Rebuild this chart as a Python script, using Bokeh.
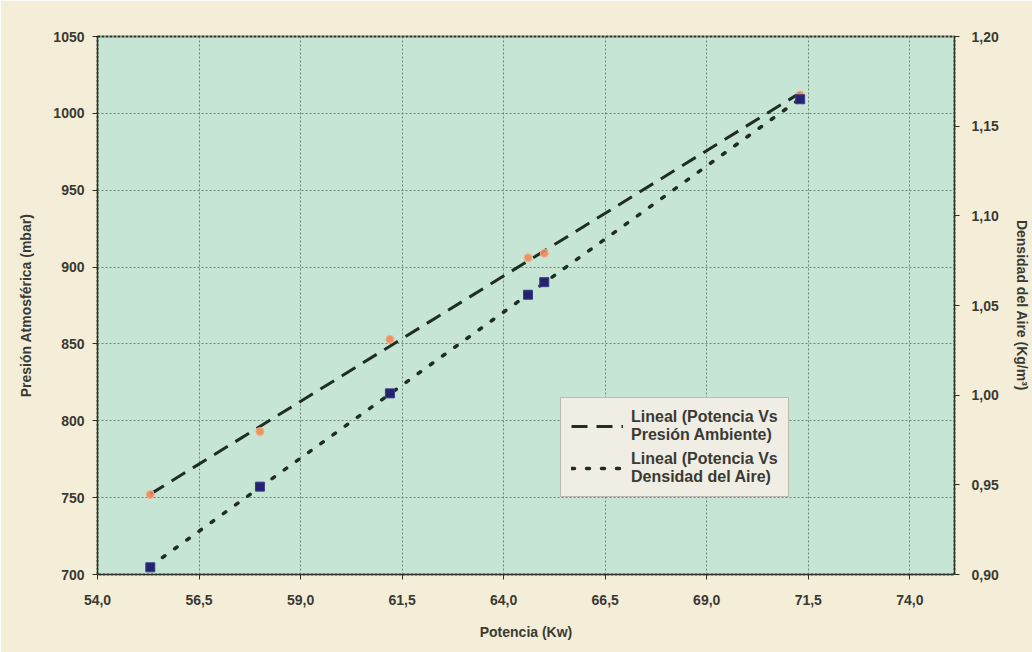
import numpy as np
from bokeh.plotting import figure
from bokeh.models import (Range1d, LinearAxis, FixedTicker, CustomJSTickFormatter,
                          Legend, LegendItem)
from bokeh.embed import file_html
from bokeh.resources import INLINE

# ---- data ----
potencia = [55.3, 58.0, 61.2, 64.6, 65.0, 71.3]
presion = [752, 793, 853, 906, 909, 1012]
densidad = [0.904, 0.949, 1.001, 1.056, 1.063, 1.165]
x_ticks = [54.0, 56.5, 59.0, 61.5, 64.0, 66.5, 69.0, 71.5, 74.0]
y_ticks = [700, 750, 800, 850, 900, 950, 1000, 1050]
y2_ticks = [0.90, 0.95, 1.00, 1.05, 1.10, 1.15, 1.20]

FONT = "Liberation Sans"
DARK = "#1e2e22"

p = figure(width=1032, height=652, output_backend="svg", toolbar_location=None,
           x_range=Range1d(54.0, 75.1), y_range=Range1d(700, 1050),
           min_border_left=97, min_border_right=74, min_border_top=36,
           min_border_bottom=78)
p.extra_y_ranges = {"dens": Range1d(0.90, 1.20)}

p.background_fill_color = "#c6e5d5"
p.border_fill_color = "#f4eed9"
p.outline_line_color = "#2b2f28"
p.outline_line_width = 2
p.outline_line_dash = "3 1"

# grid
for g in (p.xgrid, p.ygrid):
    g.grid_line_color = "#55705e"
    g.grid_line_dash = "2 2"
    g.grid_line_width = 1
    g.grid_line_alpha = 0.8
p.xgrid.ticker = FixedTicker(ticks=x_ticks)
p.ygrid.ticker = FixedTicker(ticks=y_ticks)

# axes
def style_axis(ax):
    ax.axis_line_color = "#2b2f28"
    ax.axis_line_width = 1
    ax.major_tick_line_color = "#2b2f28"
    ax.major_tick_out = 5
    ax.major_tick_in = 0
    ax.minor_tick_line_color = None
    ax.major_label_text_font = FONT
    ax.major_label_text_font_style = "bold"
    ax.major_label_text_font_size = "14px"
    ax.major_label_text_color = "#3a3a33"
    ax.axis_label_text_font = FONT
    ax.axis_label_text_font_style = "bold"
    ax.axis_label_text_font_size = "14px"
    ax.axis_label_text_color = "#3a3a33"

xa = p.xaxis[0]
style_axis(xa)
xa.ticker = FixedTicker(ticks=x_ticks)
xa.formatter = CustomJSTickFormatter(code="return tick.toFixed(1).replace('.', ',');")
xa.axis_label = "Potencia (Kw)"
xa.major_label_standoff = 15
xa.axis_label_standoff = 16

ya = p.yaxis[0]
style_axis(ya)
ya.ticker = FixedTicker(ticks=y_ticks)
ya.axis_label = "Presión Atmosférica (mbar)"
ya.major_label_standoff = 8
ya.axis_label_standoff = 16

y2 = LinearAxis(y_range_name="dens")
style_axis(y2)
y2.ticker = FixedTicker(ticks=y2_ticks)
y2.formatter = CustomJSTickFormatter(code="return tick.toFixed(2).replace('.', ',');")
y2.axis_label = "Densidad del Aire (Kg/m³)"
y2.major_label_standoff = 12
y2.axis_label_standoff = 12
p.add_layout(y2, "right")

# linear trend lines (least squares, like the spreadsheet's "Lineal")
xs = np.array(potencia)
xe = np.array([xs.min(), xs.max()])
a1, b1 = np.polyfit(xs, np.array(presion), 1)
a2, b2 = np.polyfit(xs, np.array(densidad), 1)

l1 = p.line(xe, a1 * xe + b1, line_color=DARK, line_width=3, line_dash="16 9")
l2 = p.line(xe, a2 * xe + b2, line_color=DARK, line_width=3.5, line_dash="3 12",
            line_cap="round", y_range_name="dens")

# data points
p.scatter(potencia, presion, marker="circle", size=8, fill_color="#f08a5a",
          line_color="#f6b08a", fill_alpha=0.9)
p.scatter(potencia, densidad, marker="square", size=9, fill_color="#23236e",
          line_color="#3b3b8a", y_range_name="dens")

legend = Legend(items=[
    LegendItem(label="Lineal (Potencia Vs\nPresión Ambiente)", renderers=[l1]),
    LegendItem(label="Lineal (Potencia Vs\nDensidad del Aire)", renderers=[l2]),
], location=(463, 77))
legend.background_fill_color = "#efede4"
legend.background_fill_alpha = 1.0
legend.border_line_color = "#8a8a80"
legend.border_line_width = 1
legend.label_text_font = FONT
legend.label_text_font_style = "bold"
legend.label_text_font_size = "16px"
legend.label_text_color = "#3a3a33"
legend.label_standoff = 8
legend.glyph_width = 52
legend.padding = 10
legend.spacing = 6
legend.margin = 0
p.add_layout(legend, "center")

open("out.html", "w").write(file_html(p, INLINE))
